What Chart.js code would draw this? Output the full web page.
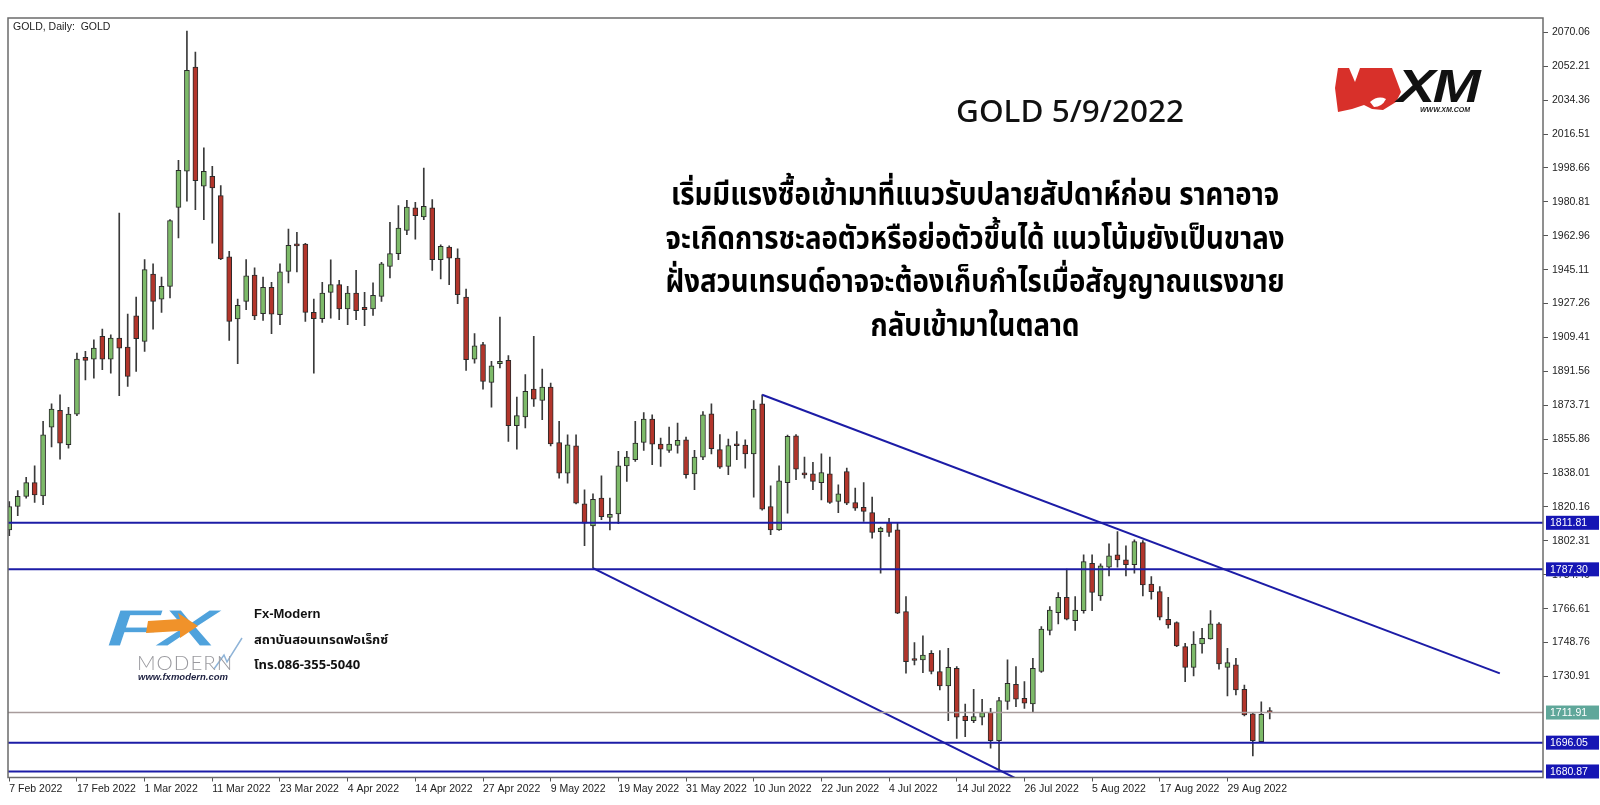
<!DOCTYPE html>
<html>
<head>
<meta charset="utf-8">
<script src="https://cdn.jsdelivr.net/npm/chart.js@4.4.0/dist/chart.umd.min.js"></script>
<style>
  body { margin: 0; background: #fff; }
  #wrap { position: relative; width: 1600px; height: 805px; overflow: hidden; }
  #wrap canvas { position: absolute; left: 0; top: 0; }
  .t { position: absolute; white-space: nowrap; }
  .thai { font-family: "Noto Sans Thai", "Noto Sans Thai UI", "Loma", "Garuda", "Noto Sans", sans-serif; }
</style>
</head>
<body>
<div id="wrap">
  <canvas id="graficoOro"></canvas>

  <div class="t" style="left:13px;top:20px;font:10.5px 'Liberation Sans',Arial,sans-serif;color:#222;">GOLD, Daily:&nbsp; GOLD</div>

  <div class="t" style="left:956px;top:88px;font:500 31.5px 'Noto Sans',sans-serif;color:#111;">GOLD 5/9/2022</div>

  <div class="t thai" style="left:0;top:174px;width:1950px;text-align:center;font-weight:700;font-size:31px;line-height:43.5px;color:#000;transform:scaleX(0.89);transform-origin:975px 0;">
    <div>เริ่มมีแรงซื้อเข้ามาที่แนวรับปลายสัปดาห์ก่อน ราคาอาจ</div>
    <div>จะเกิดการชะลอตัวหรือย่อตัวขึ้นได้ แนวโน้มยังเป็นขาลง</div>
    <div>ฝั่งสวนเทรนด์อาจจะต้องเก็บกำไรเมื่อสัญญาณแรงขาย</div>
    <div>กลับเข้ามาในตลาด</div>
  </div>

  <!-- XM logo -->
  <svg class="t" style="left:1320px;top:55px;" width="180" height="70">
    <polygon points="18,13 72,13 81,37 76,47 63,55 52,54 44,50 32,54 18,57 15,33" fill="#d8302a"/>
    <polygon points="29,13 40,13 35,27" fill="#fff"/>
    <path d="M50,47 Q58,40 66,44 Q62,52 54,52 Z" fill="#fff"/>
  </svg>
  <div class="t" style="left:1397px;top:59px;font:italic 900 46px 'Liberation Sans',Arial,sans-serif;color:#111;transform:scaleX(1.25);transform-origin:0 0;letter-spacing:-2px;">XM</div>
  <div class="t" style="left:1420px;top:106px;font:italic 700 7px 'Liberation Sans',Arial,sans-serif;color:#222;">WWW.XM.COM</div>

  <!-- FX Modern logo -->
  <div class="t" style="left:106px;top:598px;font:italic 900 52px 'Liberation Sans',Arial,sans-serif;color:#4fa2dc;letter-spacing:-2px;transform:scaleX(1.75);transform-origin:0 0;-webkit-text-stroke:1px #fff;">FX</div>
  <svg class="t" style="left:140px;top:605px;" width="110" height="75">
    <polygon points="8,16 40,14 38,8 58,21 40,33 40,26 6,28" fill="#f0922a"/>
    <path d="M74,64 L84,50 L87,57 L102,33" stroke="#8fb4d8" stroke-width="1.5" fill="none"/>
  </svg>
  <div class="t" style="left:137px;top:650px;font:300 20.5px 'Lato','Open Sans',sans-serif;color:#9a9a9f;letter-spacing:1px;">MODERN</div>
  <div class="t" style="left:138px;top:671px;font:italic 700 9.5px 'Liberation Sans',Arial,sans-serif;color:#1d2040;">www.fxmodern.com</div>

  <div class="t" style="left:254px;top:606px;font:700 13px 'Liberation Sans',Arial,sans-serif;color:#111;">Fx-Modern</div>
  <div class="t thai" style="left:254px;top:630px;font-weight:700;font-size:13px;color:#111;">สถาบันสอนเทรดฟอเร็กซ์</div>
  <div class="t thai" style="left:254px;top:655px;font-weight:700;font-size:13px;color:#111;">โทร.086-355-5040</div>
</div>

<script>
// velas diarias GOLD, 7 Feb 2022 .. 5 Sep 2022 (indice de barra = posicion)
const aperturas = [1808.0,1820.4,1825.7,1833.0,1826.0,1862.2,1871.0,1852.9,1869.0,1898.9,1898.0,1910.0,1898.0,1909.1,1904.3,1920.8,1907.3,1942.8,1929.6,1936.3,
  1977.9,1996.9,2051.7,1989.0,1994.3,1984.1,1951.8,1919.1,1928.4,1942.3,1921.9,1935.8,1921.4,1944.2,1957.9,1958.6,1922.6,1919.3,1933.1,1937.2,
  1924.4,1932.8,1925.2,1924.4,1931.0,1946.8,1953.5,1965.8,1977.6,1972.8,1977.6,1950.3,1957.0,1951.2,1930.7,1898.0,1905.6,1885.7,1895.6,1897.3,
  1862.9,1867.5,1882.2,1876.2,1883.3,1854.1,1838.0,1852.3,1821.8,1810.2,1824.8,1814.6,1816.5,1841.8,1845.0,1854.1,1866.4,1853.2,1849.9,1852.5,
  1855.5,1837.6,1846.4,1869.2,1850.3,1841.5,1852.9,1852.7,1848.1,1874.5,1820.4,1808.1,1833.0,1857.6,1837.2,1837.6,1833.0,1837.6,1823.0,1838.8,
  1822.5,1819.9,1817.2,1807.2,1812.0,1808.1,1765.1,1739.7,1739.6,1743.1,1733.5,1725.9,1735.2,1710.1,1707.6,1709.4,1712.0,1697.1,1717.7,1726.8,
  1719.4,1716.4,1733.5,1755.1,1764.5,1772.6,1760.3,1765.6,1790.5,1773.3,1788.4,1794.9,1792.3,1789.7,1801.4,1779.6,1775.6,1761.0,1759.3,1746.6,
  1735.7,1748.0,1750.7,1758.6,1735.7,1737.0,1724.1,1711.2,1696.5,1712.0];
const maximos = [1823.0,1828.8,1835.8,1841.8,1865.2,1874.5,1879.2,1872.6,1901.2,1902.1,1908.2,1913.8,1910.8,1974.9,1921.7,1930.7,1950.4,1948.1,1941.2,1971.5,
  2002.7,2070.7,2059.6,2009.2,1999.5,1989.3,1954.7,1929.6,1950.4,1946.0,1941.2,1938.4,1948.2,1966.5,1964.7,1958.9,1929.6,1938.4,1950.3,1939.5,
  1936.3,1944.7,1933.1,1938.1,1949.0,1970.0,1978.8,1981.6,1980.6,1998.6,1982.0,1958.2,1957.6,1956.0,1934.9,1911.4,1906.8,1896.8,1920.1,1899.8,
  1878.0,1889.8,1910.0,1892.7,1885.4,1865.2,1858.1,1858.1,1829.2,1827.1,1836.5,1824.8,1849.4,1849.4,1865.2,1869.9,1868.7,1856.4,1862.2,1864.3,
  1856.9,1849.9,1870.4,1874.5,1858.2,1855.9,1859.9,1855.5,1876.2,1879.2,1831.3,1841.8,1858.0,1858.3,1846.4,1843.6,1848.1,1846.4,1831.8,1840.6,
  1830.1,1833.0,1825.3,1809.5,1814.2,1812.0,1773.0,1748.7,1752.3,1744.5,1744.5,1745.7,1736.1,1716.4,1724.1,1718.9,1714.1,1719.9,1739.6,1736.1,
  1728.2,1740.5,1757.2,1767.7,1775.1,1787.4,1773.0,1794.9,1794.9,1790.2,1800.7,1807.2,1799.7,1802.8,1802.5,1783.5,1778.2,1772.6,1759.6,1748.4,
  1754.5,1756.3,1765.6,1759.3,1745.7,1740.5,1726.4,1711.5,1717.5,1714.5];
const minimos = [1805.0,1815.5,1824.8,1822.5,1821.3,1851.7,1845.3,1851.1,1868.2,1887.1,1888.0,1892.4,1890.6,1878.7,1883.6,1891.5,1902.1,1913.8,1922.6,1930.2,
  1961.8,1981.1,1976.7,1971.4,1959.1,1950.4,1907.9,1895.6,1924.0,1918.7,1918.4,1911.4,1916.1,1938.1,1943.9,1917.9,1890.6,1917.3,1919.6,1918.7,
  1916.1,1918.7,1915.6,1921.0,1928.4,1940.7,1950.3,1963.5,1961.2,1971.4,1944.7,1940.2,1937.2,1927.2,1892.0,1895.9,1882.2,1872.7,1893.3,1854.6,
  1850.6,1861.7,1873.1,1866.1,1852.3,1835.3,1832.7,1821.8,1799.7,1787.9,1813.4,1808.1,1811.3,1833.6,1844.1,1849.9,1842.4,1841.5,1848.8,1848.5,
  1835.3,1829.2,1845.0,1848.1,1840.5,1837.1,1845.0,1840.6,1825.3,1818.5,1805.5,1807.8,1816.9,1834.5,1835.3,1829.2,1823.9,1822.0,1817.2,1821.3,
  1818.3,1812.5,1803.7,1785.3,1804.6,1764.0,1732.6,1737.0,1732.9,1732.2,1723.8,1707.6,1698.3,1699.2,1706.6,1705.4,1693.1,1681.6,1713.6,1715.0,
  1714.1,1712.4,1733.0,1752.8,1758.6,1760.7,1755.1,1764.2,1765.6,1770.9,1783.9,1788.4,1783.9,1785.3,1773.3,1771.6,1760.7,1756.3,1746.6,1728.2,
  1731.2,1743.1,1750.5,1734.7,1720.6,1721.2,1710.1,1689.0,1696.0,1708.5];
const cierres = [1820.4,1825.7,1833.0,1826.5,1858.1,1871.7,1853.8,1869.0,1898.0,1897.3,1903.8,1898.0,1909.1,1903.8,1888.9,1908.7,1945.1,1928.4,1936.3,1970.9,
  1997.4,2050.1,1992.0,1996.9,1988.1,1950.7,1917.9,1926.3,1941.9,1920.8,1935.8,1921.7,1943.9,1957.9,1957.6,1922.6,1919.3,1932.8,1937.2,1924.4,
  1932.8,1923.5,1924.0,1931.6,1948.2,1953.5,1967.0,1978.1,1973.5,1978.4,1950.3,1957.4,1951.2,1931.9,1897.7,1905.0,1886.2,1894.5,1896.8,1862.9,
  1868.2,1881.0,1876.9,1883.3,1853.4,1838.0,1852.9,1822.1,1811.6,1824.2,1815.1,1816.3,1841.8,1846.4,1853.8,1866.4,1853.2,1850.6,1853.2,1855.2,
  1837.1,1846.4,1868.7,1850.8,1841.1,1852.5,1852.4,1848.1,1871.7,1819.0,1808.1,1833.9,1857.3,1840.1,1837.0,1833.6,1838.3,1822.5,1827.1,1822.1,
  1819.5,1817.8,1806.7,1809.0,1806.7,1764.2,1738.7,1739.3,1742.2,1733.5,1725.9,1735.7,1709.4,1707.6,1709.8,1711.9,1697.1,1718.2,1727.3,1718.9,
  1716.8,1735.2,1755.8,1765.9,1772.6,1761.0,1765.9,1791.4,1775.1,1789.1,1794.4,1792.3,1789.7,1801.9,1779.1,1775.6,1762.1,1758.0,1747.0,1735.7,
  1748.0,1751.0,1758.6,1737.5,1738.2,1723.8,1710.6,1697.1,1711.0,1711.9];

// etiquetas del eje x (cada 8 barras)
const barrasEtiqueta = [0,8,16,24,32,40,48,56,64,72,80,88,96,104,112,120,128,136,144];
const etiquetasFecha = ['7 Feb 2022','17 Feb 2022','1 Mar 2022','11 Mar 2022','23 Mar 2022','4 Apr 2022','14 Apr 2022','27 Apr 2022',
  '9 May 2022','19 May 2022','31 May 2022','10 Jun 2022','22 Jun 2022','4 Jul 2022','14 Jul 2022','26 Jul 2022','5 Aug 2022','17 Aug 2022','29 Aug 2022'];
// etiquetas del eje de precios
const preciosEje = [2070.06,2052.21,2034.36,2016.51,1998.66,1980.81,1962.96,1945.11,1927.26,1909.41,1891.56,1873.71,1855.86,1838.01,
  1820.16,1802.31,1784.46,1766.61,1748.76,1730.91];

// niveles horizontales y lineas de tendencia
const nivelesSR = [1811.81, 1787.30, 1696.05, 1680.87];
const precioBid = 1711.91;
const tendenciaSup = [[89, 1879.2], [176.2, 1732.5]];
const tendenciaInf = [[69, 1787.9], [120, 1675.0]];

const AZUL = '#1c1ca6';
const ctx = document.getElementById('graficoOro').getContext('2d');

const cuerpos = aperturas.map((o, i) => ({x: i, y: [o, cierres[i]]}));
const mechas = aperturas.map((o, i) => ({x: i, y: [minimos[i], maximos[i]]}));
const coloresCuerpo = aperturas.map((o, i) => cierres[i] >= o ? '#7dba69' : '#b2352b');

const lineasSR = nivelesSR.map(v => ({
  type: 'line', data: [{x: -0.15, y: v}, {x: 181.3, y: v}],
  borderColor: AZUL, borderWidth: 2, pointRadius: 0, order: 0
}));

// marco del area y cajas de precio en el eje derecho
const marcoYCajas = {
  id: 'marcoYCajas',
  afterDraw(chart) {
    const c = chart.ctx, a = chart.chartArea, y = chart.scales.y;
    c.save();
    c.strokeStyle = '#6b6b6b';
    c.lineWidth = 1.5;
    c.strokeRect(a.left, a.top, a.right - a.left, a.bottom - a.top);
    c.font = '10.5px "Liberation Sans", Arial, sans-serif';
    c.textBaseline = 'middle';
    const cajas = nivelesSR.map(v => [v, '#1616b4']).concat([[precioBid, '#5fa79a']]);
    cajas.forEach(([v, col]) => {
      const py = y.getPixelForValue(v);
      c.fillStyle = col;
      c.fillRect(a.right + 3, py - 7, 53, 14);
      c.fillStyle = '#fff';
      c.fillText(v.toFixed(2), a.right + 7, py + 0.5);
    });
    c.restore();
  }
};

const configuracion = {
  type: 'bar',
  data: {
    datasets: [
      {
        data: cuerpos, backgroundColor: coloresCuerpo, borderColor: '#2a2a2a', borderWidth: 1,
        borderSkipped: false, barThickness: 5, minBarLength: 2, grouped: false, order: 1
      },
      {
        data: mechas, backgroundColor: '#3a3a3a', barThickness: 1, grouped: false, order: 2
      },
      ...lineasSR,
      {
        type: 'line', data: [{x: -0.15, y: precioBid}, {x: 181.3, y: precioBid}],
        borderColor: '#a89c9c', borderWidth: 1.5, pointRadius: 0, order: 0
      },
      {
        type: 'line', data: tendenciaSup.map(p => ({x: p[0], y: p[1]})),
        borderColor: AZUL, borderWidth: 2, pointRadius: 0, order: 0
      },
      {
        type: 'line', data: tendenciaInf.map(p => ({x: p[0], y: p[1]})),
        borderColor: AZUL, borderWidth: 2, pointRadius: 0, order: 0
      }
    ]
  },
  options: {
    responsive: false,
    animation: false,
    events: [],
    layout: { padding: { left: 8, top: 18, right: 0, bottom: 0 } },
    plugins: { legend: { display: false }, tooltip: { enabled: false } },
    scales: {
      x: {
        type: 'linear', min: -0.15, max: 181.3, offset: false,
        grid: { offset: false, drawOnChartArea: false, drawTicks: true, tickLength: 4, color: '#555' },
        border: { display: false },
        afterBuildTicks: s => { s.ticks = barrasEtiqueta.map(v => ({value: v})); },
        afterFit: s => { s.height = 27.5; },
        ticks: {
          autoSkip: false, maxRotation: 0, minRotation: 0, align: 'start', padding: 1, color: '#222',
          font: { family: '"Liberation Sans", Arial, sans-serif', size: 10.5 },
          callback: v => etiquetasFecha[barrasEtiqueta.indexOf(v)]
        }
      },
      y: {
        type: 'linear', position: 'right', min: 1677.7, max: 2077.6,
        grid: { drawOnChartArea: false, drawTicks: true, tickLength: 5, color: '#555' },
        border: { display: false },
        afterBuildTicks: s => { s.ticks = preciosEje.map(v => ({value: v})); },
        afterFit: s => { s.width = 57; },
        ticks: {
          padding: 4, color: '#222',
          font: { family: '"Liberation Sans", Arial, sans-serif', size: 10.5 },
          callback: v => v.toFixed(2)
        }
      }
    }
  },
  plugins: [marcoYCajas]
};

const canvas = document.getElementById('graficoOro');
canvas.width = 1600;
canvas.height = 805;
var graficoOro = new Chart(ctx, configuracion);
</script>
</body>
</html>
